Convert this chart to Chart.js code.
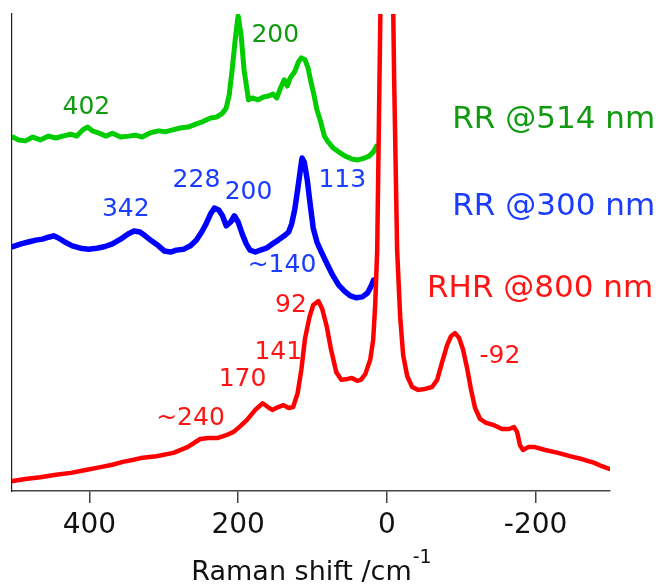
<!DOCTYPE html>
<html>
<head>
<meta charset="utf-8">
<script src="https://cdn.jsdelivr.net/npm/chart.js@4.4.1/dist/chart.umd.min.js"></script>
<style>
  html, body { margin: 0; padding: 0; background: #fff; }
  #chart { display: block; }
</style>
</head>
<body>
<canvas id="chart" width="659" height="587"></canvas>
<script>
// Raman shift (cm-1) / intensity (arb. units, offset traces)
const greenShift = [503, 495, 486, 476, 466, 455, 445, 436, 425, 417, 409, 402, 396, 388, 378, 369, 358, 347, 338, 329,
    318, 307, 298, 288, 278, 267, 257, 248, 237, 229, 221, 216, 212, 208, 204, 200, 196, 192, 186, 181,
    173, 166, 159, 153, 148, 143, 138, 134, 130, 124, 119, 115, 110, 106, 102, 98, 94, 89, 84, 79,
    72, 65, 56, 47, 39, 30, 24, 18, 14];
const greenInt = [74.2, 73.6, 73.4, 74.2, 73.6, 74.4, 74.0, 74.4, 74.8, 74.4, 75.7, 76.3, 75.5, 75.1, 74.4, 75.0, 74.2, 74.4, 74.6, 74.2,
    75.1, 75.5, 75.3, 75.7, 76.1, 76.3, 76.9, 77.4, 78.2, 78.4, 79.2, 80.3, 83.0, 88.3, 94.5, 99.6, 95.6, 88.3, 82.0, 82.4,
    82.0, 82.6, 82.8, 83.2, 82.4, 84.5, 86.2, 84.9, 86.6, 87.9, 89.9, 90.8, 90.4, 88.7, 85.7, 83.0, 79.9, 77.4, 74.4, 73.2,
    71.9, 71.1, 70.2, 69.6, 69.4, 69.8, 70.2, 71.1, 72.3];

const blueShift = [503, 492, 482, 472, 463, 455, 448, 441, 433, 423, 412, 401, 390, 380, 369, 358, 348, 340, 332, 325,
    316, 307, 299, 291, 283, 273, 264, 256, 249, 243, 237, 232, 226, 221, 216, 210, 205, 200, 194, 189,
    184, 177, 170, 162, 154, 146, 138, 132, 128, 124, 120, 116, 114, 111, 107, 103, 99, 94, 88, 81,
    73, 65, 57, 49, 41, 33, 26, 21, 18];
const blueInt = [51.2, 51.8, 52.2, 52.6, 52.8, 53.2, 53.5, 53.0, 52.2, 51.4, 50.9, 50.7, 50.9, 51.2, 51.8, 52.8, 53.9, 54.5, 54.3, 53.5,
    52.4, 51.4, 50.3, 50.1, 50.5, 50.7, 51.4, 52.6, 54.3, 56.0, 58.1, 59.3, 58.9, 57.7, 55.6, 56.4, 57.7, 56.4, 53.7, 51.8,
    50.5, 50.1, 50.5, 50.9, 51.8, 52.6, 53.5, 54.3, 56.0, 58.9, 63.1, 67.7, 69.8, 68.9, 65.2, 60.0, 55.1, 52.2, 50.1, 47.8,
    45.3, 43.2, 41.9, 40.9, 40.5, 40.7, 41.5, 43.0, 44.2];

const redShift = [503, 486, 466, 445, 425, 405, 385, 369, 355, 342, 331, 310, 287, 268, 251, 240, 228, 216, 206, 197,
    188, 177, 167, 160, 154, 146, 139, 132, 126, 120, 115, 110, 104, 99, 92, 87, 81, 75, 68, 61,
    53, 47, 40, 35, 29, 22.4, 18.4, 15.7, 13.0, 10.3, 0, -9.8, -13.8, -17.9, -21.9, -27.3, -34, -42, -51.4, -60.8,
    -67.6, -74.3, -81, -86.4, -91.7, -97.1, -102.5, -107.8, -113.2, -118.6, -125.3, -133.4, -144.1, -154.8, -164.3, -171, -175, -179, -183, -190,
    -199, -213, -230, -246, -262, -279, -289, -300];
const redInt = [2.1, 2.5, 2.9, 3.4, 3.8, 4.4, 5.0, 5.5, 6.1, 6.5, 6.9, 7.3, 8.0, 9.2, 10.9, 11.1, 11.1, 11.7, 12.4, 13.6,
    14.9, 17.0, 18.4, 17.6, 17.0, 17.6, 18.0, 17.4, 17.6, 20.5, 25.4, 32.0, 36.5, 39.0, 39.8, 38.2, 34.6, 29.6, 24.9, 23.3,
    23.5, 23.7, 23.1, 23.3, 24.5, 27.5, 31.7, 39.0, 50.5, 82.0, 200, 86.2, 50.5, 36.5, 28.5, 24.1, 21.8, 21.2, 21.4, 21.8,
    23.3, 27.0, 30.6, 32.5, 33.1, 32.1, 29.6, 25.8, 21.2, 17.4, 15.1, 14.3, 13.8, 13.0, 13.0, 13.4, 12.4, 9.6, 8.6, 9.2,
    9.2, 8.6, 8.0, 7.3, 6.7, 5.9, 5.2, 4.6];

const xTicks = [400, 200, 0, -200];

const GREEN = '#00cc00', GREEN_TEXT = '#109a10';
const BLUE = '#0000ff', BLUE_TEXT = '#1a3cff';
const RED = '#ff0000', RED_TEXT = '#ff1414';

function pts(xs, ys) {
    return xs.map((x, i) => ({ x: x, y: ys[i] }));
}

// peak labels and trace names, placed in data coordinates
const notes = [
    { text: '402', x: 404, y: 80.5, color: GREEN_TEXT },
    { text: '200', x: 150, y: 95.4, color: GREEN_TEXT },
    { text: '342', x: 351, y: 59.1, color: BLUE_TEXT },
    { text: '228', x: 256, y: 65.0, color: BLUE_TEXT },
    { text: '200', x: 186, y: 62.5, color: BLUE_TEXT },
    { text: '113', x: 60, y: 65.0, color: BLUE_TEXT },
    { text: '~140', x: 141, y: 47.2, color: BLUE_TEXT },
    { text: '92', x: 129, y: 38.8, color: RED_TEXT },
    { text: '141', x: 146, y: 29.1, color: RED_TEXT },
    { text: '170', x: 194, y: 23.3, color: RED_TEXT },
    { text: '~240', x: 264, y: 15.3, color: RED_TEXT },
    { text: '-92', x: -152, y: 28.3, color: RED_TEXT },
    { text: 'RR @514 nm', x: -88, y: 77.8, color: GREEN_TEXT, big: true },
    { text: 'RR @300 nm', x: -88, y: 59.5, color: BLUE_TEXT, big: true },
    { text: 'RHR @800 nm', x: -54, y: 42.3, color: RED_TEXT, big: true }
];

const notesPlugin = {
    id: 'notes',
    afterDatasetsDraw(chart) {
        const { ctx, scales: { x, y } } = chart;
        ctx.save();
        ctx.textBaseline = 'middle';
        notes.forEach(n => {
            ctx.fillStyle = n.color;
            if (n.big) {
                ctx.font = '31px "DejaVu Sans"';
                ctx.textAlign = 'left';
            } else {
                ctx.font = '25px "DejaVu Sans"';
                ctx.textAlign = 'center';
            }
            ctx.fillText(n.text, x.getPixelForValue(n.x), y.getPixelForValue(n.y));
        });
        ctx.restore();
    },
    afterDraw(chart) {
        // axis title with superscript
        const { ctx, chartArea } = chart;
        ctx.save();
        ctx.fillStyle = '#111';
        ctx.textBaseline = 'alphabetic';
        ctx.textAlign = 'left';
        const main = 'Raman shift /cm';
        ctx.font = '27px "DejaVu Sans"';
        const w1 = ctx.measureText(main).width;
        ctx.font = '19px "DejaVu Sans"';
        const w2 = ctx.measureText('-1').width;
        const x0 = (chartArea.left + chartArea.right) / 2 - (w1 + w2) / 2;
        ctx.font = '27px "DejaVu Sans"';
        ctx.fillText(main, x0, 580);
        ctx.font = '19px "DejaVu Sans"';
        ctx.fillText('-1', x0 + w1 + 1, 563);
        ctx.restore();
    }
};

const lineStyle = { pointRadius: 0, tension: 0, fill: false, borderJoinStyle: 'round', borderCapStyle: 'round' };

new Chart(document.getElementById('chart').getContext('2d'), {
    type: 'line',
    data: {
        datasets: [
            Object.assign({ label: 'RHR @800 nm', data: pts(redShift, redInt), borderColor: RED, borderWidth: 4.5 }, lineStyle),
            Object.assign({ label: 'RR @300 nm', data: pts(blueShift, blueInt), borderColor: BLUE, borderWidth: 5.5 }, lineStyle),
            Object.assign({ label: 'RR @514 nm', data: pts(greenShift, greenInt), borderColor: GREEN, borderWidth: 5 }, lineStyle)
        ]
    },
    options: {
        responsive: false,
        animation: false,
        devicePixelRatio: 1,
        layout: { padding: { top: 14, left: 12, right: 49, bottom: 0 } },
        plugins: { legend: { display: false }, tooltip: { enabled: false } },
        scales: {
            x: {
                type: 'linear',
                reverse: true,
                min: -300,
                max: 504,
                afterBuildTicks: s => { s.ticks = xTicks.map(v => ({ value: v })); },
                afterFit: s => { s.height = 96; },
                ticks: {
                    callback: v => String(v),
                    font: { family: 'DejaVu Sans', size: 28 },
                    color: '#111',
                    padding: 6,
                    maxRotation: 0,
                    autoSkip: false
                },
                grid: { display: true, drawOnChartArea: false, drawTicks: true, tickLength: 12, color: '#444', lineWidth: 1.5 },
                border: { display: true, color: '#444', width: 1.5 }
            },
            y: {
                min: 0,
                max: 100,
                ticks: { display: false },
                grid: { display: false, drawTicks: false },
                border: { display: true, color: '#222', width: 1.2 },
                afterFit: s => { s.width = 0; }
            }
        }
    },
    plugins: [notesPlugin]
});
</script>
</body>
</html>
